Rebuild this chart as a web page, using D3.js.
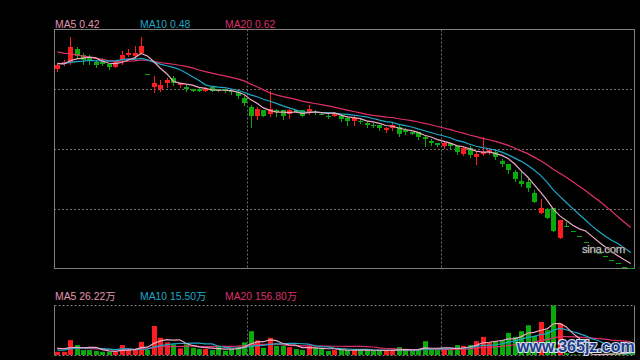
<!DOCTYPE html>
<html><head><meta charset="utf-8">
<script src="https://cdn.jsdelivr.net/npm/d3@7"></script>
<style>html,body{margin:0;padding:0;background:#000;overflow:hidden}svg{display:block}</style>
</head><body><svg id="c" width="640" height="360"></svg>
<script>
// ---- data (prices in yuan, volumes in 万) ----
const opens  = [1.50,1.53,1.54,1.61,1.58,1.56,1.54,1.54,1.53,1.51,1.55,1.58,1.57,1.59,1.47,1.40,1.39,1.42,1.45,1.41,
                1.40,1.39,1.39,1.38,1.40,1.39,1.39,1.38,1.37,1.34,1.29,1.24,1.27,1.25,1.27,1.27,1.25,1.27,1.27,1.26,
                1.26,1.25,1.24,1.24,1.24,1.23,1.21,1.21,1.20,1.19,1.19,1.16,1.17,1.18,1.16,1.15,1.15,1.12,1.10,1.09,
                1.07,1.09,1.07,1.03,1.06,1.01,1.03,1.04,1.04,0.99,0.97,0.93,0.88,0.87,0.81,0.70,0.72,0.73,0.56,0.63,
                0.60,0.57,0.54,0.51,0.48,0.46,0.44,0.42,0.40,0.38];
const highs  = [1.53,1.55,1.68,1.62,1.59,1.58,1.55,1.56,1.53,1.55,1.60,1.61,1.63,1.68,1.47,1.46,1.44,1.45,1.46,1.42,
                1.41,1.39,1.40,1.40,1.40,1.39,1.39,1.38,1.38,1.35,1.30,1.29,1.27,1.38,1.28,1.27,1.28,1.27,1.27,1.30,
                1.27,1.26,1.25,1.25,1.25,1.24,1.24,1.22,1.21,1.20,1.19,1.18,1.20,1.19,1.17,1.15,1.15,1.13,1.11,1.09,
                1.10,1.09,1.07,1.07,1.07,1.04,1.12,1.06,1.05,1.00,0.97,0.94,0.93,0.89,0.83,0.78,0.73,0.73,0.66,0.65,
                0.60,0.57,0.54,0.51,0.48,0.46,0.44,0.42,0.40,0.38];
const lows   = [1.49,1.52,1.53,1.56,1.53,1.53,1.51,1.52,1.50,1.51,1.53,1.57,1.56,1.59,1.47,1.37,1.38,1.40,1.41,1.40,
                1.38,1.38,1.38,1.38,1.38,1.38,1.37,1.36,1.34,1.30,1.18,1.22,1.24,1.24,1.24,1.22,1.23,1.26,1.24,1.25,
                1.25,1.25,1.23,1.24,1.21,1.19,1.19,1.20,1.18,1.18,1.16,1.15,1.16,1.13,1.14,1.14,1.11,1.07,1.08,1.07,
                1.06,1.06,1.03,1.02,1.01,0.97,1.02,1.03,1.00,0.96,0.92,0.88,0.85,0.82,0.76,0.70,0.67,0.60,0.56,0.63,
                0.60,0.57,0.54,0.51,0.48,0.46,0.44,0.42,0.40,0.38];
const closes = [1.52,1.54,1.62,1.57,1.55,1.55,1.52,1.53,1.51,1.54,1.58,1.59,1.59,1.63,1.47,1.42,1.41,1.44,1.42,1.42,
                1.39,1.38,1.38,1.39,1.38,1.38,1.38,1.37,1.35,1.31,1.24,1.28,1.24,1.28,1.26,1.24,1.27,1.26,1.24,1.28,
                1.26,1.25,1.24,1.25,1.22,1.21,1.23,1.21,1.19,1.19,1.17,1.17,1.19,1.14,1.15,1.14,1.12,1.11,1.09,1.08,
                1.09,1.07,1.04,1.06,1.02,1.03,1.04,1.05,1.01,0.97,0.94,0.89,0.86,0.84,0.76,0.73,0.67,0.60,0.66,0.63,
                0.60,0.57,0.54,0.51,0.48,0.46,0.44,0.42,0.40,0.38];
const volumes = [38,38,175,117,58,58,47,38,38,35,117,58,70,155,58,341,202,148,125,78,
                 125,85,70,70,58,97,50,70,97,148,280,171,85,202,108,108,93,70,58,108,
                 85,70,47,58,58,58,58,58,58,47,58,47,58,93,58,47,58,163,70,58,
                 70,58,117,108,117,163,213,148,155,175,260,213,280,350,225,388,291,582,369,23,
                 7,5,4.5,4,3.4,15,20,25,32,39.1];
// sessions before the first visible candle (only feed the moving averages)
const priorCloses  = [1.70,1.69,1.69,1.68,1.67,1.66,1.65,1.64,1.62,1.60,1.56,1.55,1.53,1.52,1.51,1.55,1.53,1.52,1.53];
const priorVolumes = [120,90,110,85,100,95,105,80,100,95,40,35,42,38,35,60,110,95,87];
const maPeriods = [5,10,20];
const periodStarts = [30,60];
const sinaMark = "sina.com";
const siteMark = "www.365jz.com";

// ---- layout ----
const W=640,H=360, L=54, R=634, T=29.5, B=268.5, VT=305.5, VB=355;
const RED='#fa1e1e', GREEN='#0ca80c';
const maColors=['#eeaac4','#1ea8c8','#e0306c'];
const labelColors=['#e095b3','#1ea8c8','#dc3068'];
const BORDER='#808080', GRID='#6e6e6e';

const svg=d3.select('#c');
svg.append('rect').attr('width',W).attr('height',H).attr('fill','#000');

const n=closes.length;
const x=d3.scaleLinear().domain([-0.5,n-0.5]).range([L,R]);
const y=d3.scaleLinear().domain([(339-269)/180,(339-29)/180]).range([269,29]);
const yc=v=>Math.min(y(v),B-1);
const vy=d3.scaleLinear().domain([0,d3.max(volumes)]).range([VB,VT]);

function ma(all,prior,p){
  return d3.range(n).map(i=>{const e=i+prior; return d3.mean(all.slice(e-p+1,e+1));});
}
const allC=priorCloses.concat(closes), allV=priorVolumes.concat(volumes);
const priceMA=maPeriods.map(p=>ma(allC,priorCloses.length,p));
const volMA=maPeriods.map(p=>ma(allV,priorVolumes.length,p));

const isUp=i=> closes[i]>opens[i] ? true : closes[i]<opens[i] ? false : (i>0 ? closes[i]>closes[i-1] : true);

// ---- grid ----
const g=svg.append('g');
[1,2,3].forEach(k=>{
  const yy=Math.round(T+(B-T)*k/4)+0.5;
  g.append('line').attr('x1',L).attr('x2',R).attr('y1',yy).attr('y2',yy)
   .attr('stroke',GRID).attr('stroke-dasharray','2,2');
});
periodStarts.forEach(s=>{
  const xx=Math.round(x(s-0.5))+0.5;
  g.append('line').attr('x1',xx).attr('x2',xx).attr('y1',T).attr('y2',B)
   .attr('stroke',GRID).attr('stroke-dasharray','2,2');
  g.append('line').attr('x1',xx).attr('x2',xx).attr('y1',VT).attr('y2',VB)
   .attr('stroke',GRID).attr('stroke-dasharray','2,2');
});
// borders
g.append('rect').attr('x',L+0.5).attr('y',T).attr('width',R-L).attr('height',B-T)
 .attr('fill','none').attr('stroke',BORDER);
g.append('line').attr('x1',L+0.5).attr('x2',R+0.5).attr('y1',VT).attr('y2',VT).attr('stroke',BORDER).attr('stroke-dasharray','2,2');
g.append('line').attr('x1',L+0.5).attr('x2',R+0.5).attr('y1',VB+0.5).attr('y2',VB+0.5).attr('stroke',BORDER).attr('stroke-dasharray','2,2');
g.append('line').attr('x1',L+0.5).attr('x2',L+0.5).attr('y1',VT).attr('y2',VB).attr('stroke',BORDER);
g.append('line').attr('x1',R+0.5).attr('x2',R+0.5).attr('y1',VT).attr('y2',VB).attr('stroke',BORDER);

// ---- candles ----
const cg=svg.append('g');
d3.range(n).forEach(i=>{
  const cx=Math.round(x(i)); const col=isUp(i)?RED:GREEN;
  const yH=yc(highs[i]), yL=yc(lows[i]);
  const y1=Math.round(Math.min(yc(opens[i]),yc(closes[i])));
  const y2=Math.round(Math.max(yc(opens[i]),yc(closes[i])));
  if(yL-yH>0.5) cg.append('line').attr('x1',cx+0.5).attr('x2',cx+0.5).attr('y1',Math.round(yH)).attr('y2',Math.round(yL)+1).attr('stroke',col);
  cg.append('rect').attr('x',cx-2).attr('y',y1).attr('width',5).attr('height',Math.max(1,y2-y1)).attr('fill',col);
  const vh=VB-vy(volumes[i]);
  cg.append('rect').attr('x',cx-2).attr('y',VB-vh).attr('width',5).attr('height',vh).attr('fill',col);
});

// ---- moving averages ----
const line=d3.line().x((d,i)=>x(i)).y(d=>y(d));
const vline=d3.line().x((d,i)=>x(i)).y(d=>vy(d));
[2,1,0].forEach(k=>{
  svg.append('path').attr('d',line(priceMA[k])).attr('fill','none').attr('stroke',maColors[k]).attr('stroke-width',1.2);
  svg.append('path').attr('d',vline(volMA[k])).attr('fill','none').attr('stroke',maColors[k]).attr('stroke-width',1.2);
});

// ---- labels ----
const f2=d3.format('.2f');
const lx=[55,140,225];
maPeriods.forEach((p,k)=>{
  svg.append('text').attr('x',lx[k]).attr('y',28).attr('fill',labelColors[k])
    .attr('font-family','Liberation Sans, Arial, sans-serif').attr('font-size',10.4)
    .text('MA'+p+' '+f2(priceMA[k][n-1]));
  svg.append('text').attr('x',lx[k]).attr('y',299.5).attr('fill',labelColors[k])
    .attr('font-family','Liberation Sans, Noto Sans CJK SC, Arial, sans-serif').attr('font-size',10.4)
    .text('MA'+p+' '+f2(volMA[k][n-1])+'万');
});

// ---- watermarks ----
svg.append('text').attr('x',582).attr('y',252.5).attr('fill','#c4c4c4')
  .attr('stroke','#333').attr('stroke-width',1).attr('paint-order','stroke')
  .attr('font-family','Liberation Sans, Arial, sans-serif').attr('font-size',11.5).attr('letter-spacing',-0.4)
  .text(sinaMark);
svg.append('text').attr('x',517).attr('y',351.5).attr('fill','#1d3d8c')
  .attr('stroke','#d8e0ec').attr('stroke-width',2.2).attr('paint-order','stroke')
  .attr('font-family','Liberation Sans, Arial, sans-serif').attr('font-weight','bold').attr('font-size',16)
  .text(siteMark);
</script></body></html>
